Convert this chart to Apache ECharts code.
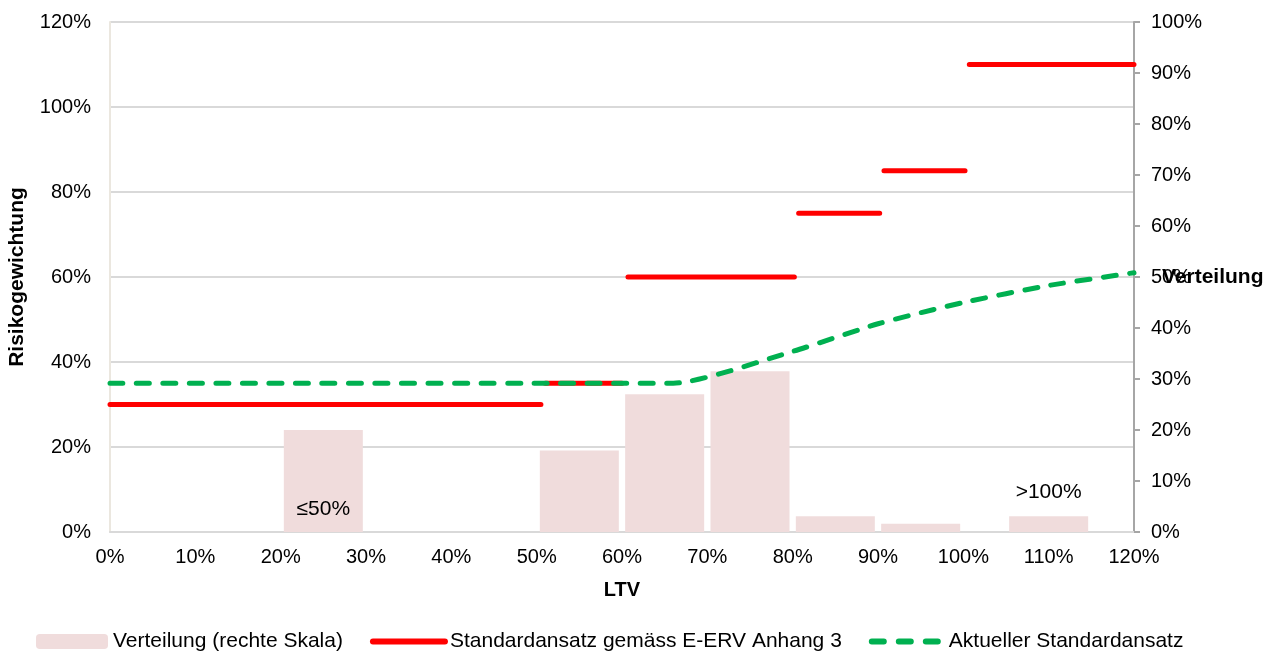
<!DOCTYPE html>
<html>
<head>
<meta charset="utf-8">
<script src="https://cdn.jsdelivr.net/npm/echarts@6/dist/echarts.min.js"></script>
<style>
html,body{margin:0;padding:0;background:#fff;}
#chart{width:1268px;height:655px;}
</style>
</head>
<body>
<div id="chart"></div>
<script>
// Verteilung (rechte Skala) - Balken
let barX = [25, 55, 65, 75, 85, 95, 110];
let barValues = [20, 16, 27, 31.5, 3.1, 1.6, 3.1];
let barLabels = ['≤50%', '', '', '', '', '', '>100%'];

// Standardansatz gemäss E-ERV Anhang 3 (Stufen: von, bis, Wert)
let redFrom = [0, 51, 60.7, 80.7, 90.7, 100.7];
let redTo = [50.5, 60, 80.2, 90.2, 100.2, 120];
let redValues = [30, 35, 60, 75, 85, 110];

// Aktueller Standardansatz
let greenX = [0, 66, 80, 90, 100, 110, 120];
let greenValues = [35, 35, 42.5, 49, 54, 58, 61];

let xTicks = [0, 120, 10];
let leftTicks = [0, 120, 20];
let rightTicks = [0, 100, 10];

let fontFam = '"Liberation Sans", Arial, sans-serif';
let fs = 20;   // Achsenbeschriftung
let fsBig = 21; // Legende, Achsentitel

let chart = echarts.init(document.getElementById('chart'));

let barData = [];
for (let i = 0; i < barX.length; i++) {
    let item = {value: [barX[i], barValues[i]]};
    if (barLabels[i] == '≤50%') {
        item.label = {show: true, position: 'insideBottom', distance: 12, formatter: barLabels[i]};
    } else if (barLabels[i] != '') {
        item.label = {show: true, position: 'top', distance: 13, formatter: barLabels[i]};
    }
    barData.push(item);
}

let redData = [];
for (let i = 0; i < redFrom.length; i++) {
    redData.push([redFrom[i], redValues[i]]);
    redData.push([redTo[i], redValues[i]]);
    redData.push([redTo[i], '-']);
}

let greenData = [];
for (let i = 0; i < greenX.length; i++) {
    greenData.push([greenX[i], greenValues[i]]);
}

let option = {
    animation: false,
    textStyle: {fontFamily: fontFam, color: '#000'},
    grid: {
        left: 110, right: 134, top: 22, bottom: 123,
        outerBoundsMode: 'none',
        show: true, borderColor: '#ebe7df', borderWidth: 1
    },
    legend: {
        bottom: 3,
        left: 36,
        padding: 0,
        itemWidth: 72,
        itemHeight: 15,
        itemGap: 27,
        textStyle: {fontFamily: fontFam, fontSize: fsBig, color: '#000'},
        data: [
            {name: 'Verteilung (rechte Skala)'},
            {name: 'Standardansatz gemäss E-ERV Anhang 3', itemStyle: {opacity: 0}, lineStyle: {width: 6, cap: 'round'}},
            {name: 'Aktueller Standardansatz', itemStyle: {opacity: 0}, lineStyle: {width: 6, cap: 'round', type: [12, 15]}}
        ]
    },
    xAxis: {
        type: 'value',
        min: xTicks[0], max: xTicks[1], interval: xTicks[2],
        name: 'LTV',
        nameLocation: 'middle',
        nameGap: 48,
        nameMoveOverlap: false,
        nameTextStyle: {fontFamily: fontFam, fontSize: fs, fontWeight: 'bold', color: '#000'},
        axisLine: {show: true, lineStyle: {color: '#d9d9d9', width: 2}},
        axisTick: {show: false},
        splitLine: {show: false},
        axisLabel: {formatter: '{value}%', fontSize: fs, color: '#000', margin: 15, fontFamily: fontFam}
    },
    yAxis: [{
        type: 'value',
        min: leftTicks[0], max: leftTicks[1], interval: leftTicks[2],
        name: 'Risikogewichtung',
        nameLocation: 'middle',
        nameGap: 82,
        nameMoveOverlap: false,
        nameTextStyle: {fontFamily: fontFam, fontSize: fsBig, fontWeight: 'bold', color: '#000'},
        axisLine: {show: true, lineStyle: {color: '#ebe7df', width: 2}},
        axisTick: {show: false},
        splitLine: {show: true, lineStyle: {color: '#d9d9d9', width: 2}},
        axisLabel: {formatter: '{value}%', fontSize: fs, color: '#000', margin: 19, fontFamily: fontFam}
    }, {
        type: 'value',
        position: 'right',
        min: rightTicks[0], max: rightTicks[1], interval: rightTicks[2],
        name: 'Verteilung',
        nameLocation: 'middle',
        nameGap: 28,
        nameRotate: 0,
        nameMoveOverlap: false,
        nameTextStyle: {fontFamily: fontFam, fontSize: fsBig, fontWeight: 'bold', color: '#000', align: 'left'},
        axisLine: {show: true, lineStyle: {color: '#a6a6a6', width: 2}},
        axisTick: {show: true, inside: false, length: 6, lineStyle: {color: '#a6a6a6', width: 2}},
        splitLine: {show: false},
        axisLabel: {formatter: '{value}%', fontSize: fs, color: '#000', margin: 17, fontFamily: fontFam}
    }],
    series: [{
        name: 'Verteilung (rechte Skala)',
        type: 'bar',
        yAxisIndex: 1,
        barWidth: 79,
        itemStyle: {color: '#f0dcdc'},
        label: {fontSize: fsBig, color: '#000', fontFamily: fontFam},
        data: barData,
        z: 1
    }, {
        name: 'Standardansatz gemäss E-ERV Anhang 3',
        type: 'line',
        yAxisIndex: 0,
        symbol: 'none',
        connectNulls: false,
        itemStyle: {color: '#ff0000'},
        lineStyle: {color: '#ff0000', width: 5, cap: 'round'},
        data: redData,
        z: 3
    }, {
        name: 'Aktueller Standardansatz',
        type: 'line',
        yAxisIndex: 0,
        symbol: 'none',
        smooth: 0.2,
        itemStyle: {color: '#00b050'},
        lineStyle: {color: '#00b050', width: 5, type: [13, 13.5], cap: 'round'},
        data: greenData,
        z: 4
    }]
};

chart.setOption(option);
</script>
</body>
</html>
